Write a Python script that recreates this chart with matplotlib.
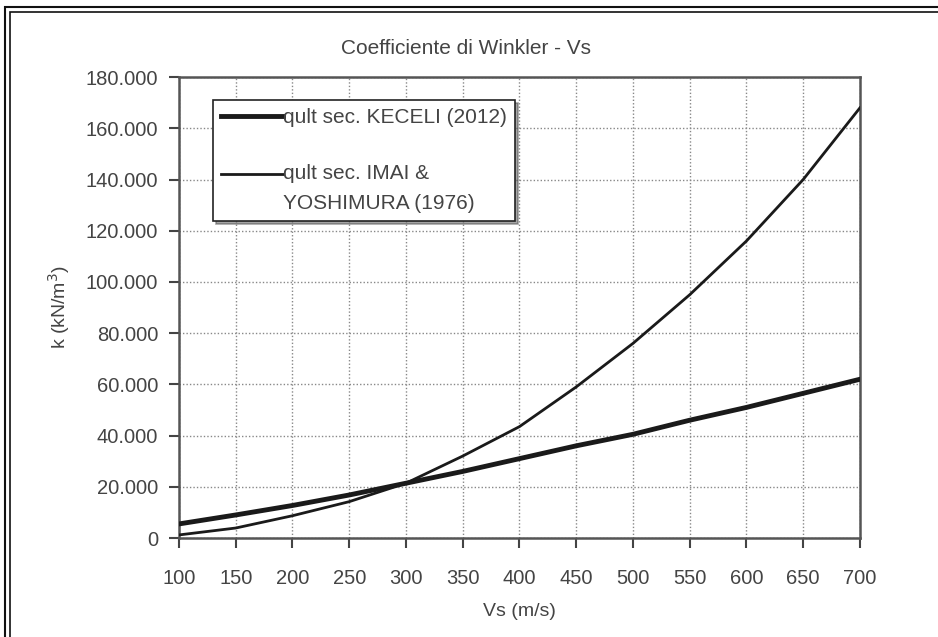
import matplotlib
matplotlib.use("Agg")
import numpy as np
import matplotlib.pyplot as plt
from matplotlib.ticker import FuncFormatter
from matplotlib.patches import Rectangle
from matplotlib.legend_handler import HandlerLine2D

plt.rcParams['font.family'] = ['Liberation Sans', 'DejaVu Sans']

vs = [100, 150, 200, 250, 300, 350, 400, 450, 500, 550, 600, 650, 700]
k_keceli = [5500, 9000, 12700, 16800, 21400, 26000, 31000, 36000, 40500, 46000, 51000, 56500, 62000]
k_imai = [1200, 3900, 8700, 14200, 21400, 32000, 43500, 59000, 76000, 95000, 116000, 140000, 168000]
xticks = [100, 150, 200, 250, 300, 350, 400, 450, 500, 550, 600, 650, 700]
yticks = [0, 20000, 40000, 60000, 80000, 100000, 120000, 140000, 160000, 180000]

label_keceli = "qult sec. KECELI (2012)"
label_imai = "qult sec. IMAI &\nYOSHIMURA (1976)"


class ShiftedLineHandler(HandlerLine2D):
    def __init__(self, dy=0.0, **kw):
        super().__init__(**kw)
        self.dy = dy

    def create_artists(self, legend, orig_handle, xdescent, ydescent, width, height, fontsize, trans):
        arts = super().create_artists(legend, orig_handle, xdescent, ydescent, width, height, fontsize, trans)
        for a in arts:
            a.set_ydata(np.asarray(a.get_ydata(), dtype=float) + self.dy)
        return arts


txt = '#444444'
fig = plt.figure(figsize=(9.38, 6.37), dpi=100)
ax = fig.add_axes([0.1908, 0.1554, 0.7260, 0.7236])

l1, = ax.plot(vs, k_keceli, color='#1a1a1a', lw=3.5, label=label_keceli, zorder=3)
l2, = ax.plot(vs, k_imai, color='#1a1a1a', lw=2.0, label=label_imai, zorder=3)

ax.set_xlim(100, 700)
ax.set_ylim(0, 180000)
ax.set_xticks(xticks)
ax.set_yticks(yticks)
ax.yaxis.set_major_formatter(FuncFormatter(lambda v, p: "0" if v == 0 else f"{int(v):,}".replace(",", ".")))
ax.grid(True, color='#888888', linestyle=(0, (1, 1.5)), lw=1.0)
ax.set_axisbelow(True)
for s in ax.spines.values():
    s.set_color('#555555')
    s.set_linewidth(1.8)
ax.tick_params(axis='both', direction='out', length=7, width=1.5, color='#444444',
               labelcolor=txt, labelsize=14.5)
ax.tick_params(axis='x', pad=15)
ax.tick_params(axis='y', pad=8)

fig.text(466/938, 1 - 48/637, "Coefficiente di Winkler - Vs", color=txt, fontsize=15,
         ha='center', va='center')
ax.set_xlabel("Vs (m/s)", color=txt, fontsize=14, labelpad=11)
ax.set_ylabel("k (kN/m$^3$)", color=txt, fontsize=14, labelpad=10)

leg = ax.legend(loc='upper left', bbox_to_anchor=(0.05, 0.95), fontsize=15,
                frameon=True, fancybox=False, shadow=True, edgecolor='#222222',
                labelspacing=1.75, handlelength=2.95, handletextpad=0.0,
                borderpad=0.4, borderaxespad=0,
                handler_map={l2: ShiftedLineHandler(dy=10.5)})
leg.get_frame().set_linewidth(1.2)
for t in leg.get_texts():
    t.set_color(txt)
    t.set_linespacing(1.75)

# outer double frame
fig.patches.append(Rectangle((5/938, -0.1), 1.2, (637-7)/637 + 0.1, transform=fig.transFigure,
                             fill=False, ec='#111111', lw=1.5))
fig.patches.append(Rectangle((10/938, -0.1), 1.2, (637-12)/637 + 0.1, transform=fig.transFigure,
                             fill=False, ec='#111111', lw=1.2))

fig.savefig("out.png", dpi=100)
